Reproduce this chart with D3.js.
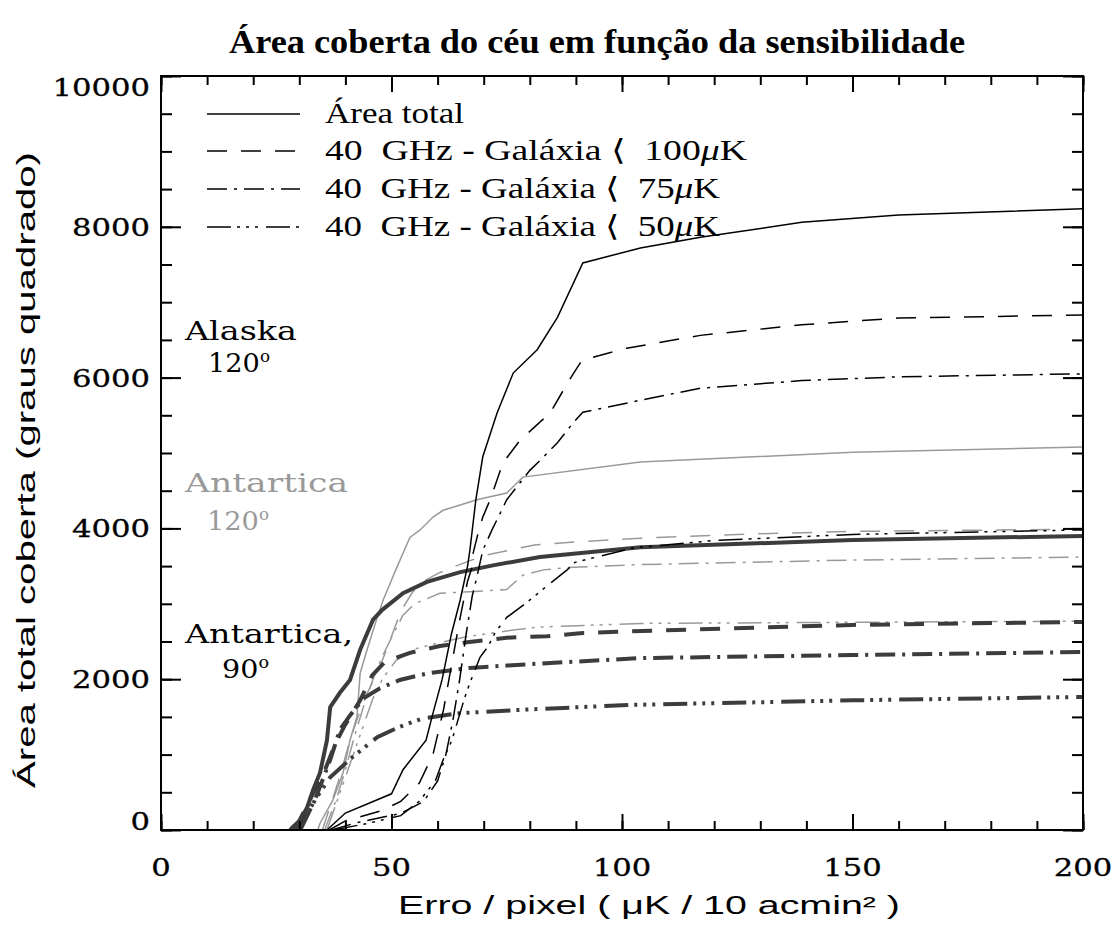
<!DOCTYPE html>
<html><head><meta charset="utf-8">
<script src="https://cdn.jsdelivr.net/npm/d3@7"></script>
<style>body{margin:0;background:#fff}</style>
</head><body><svg id="c" width="1118" height="928"></svg>
<script>
// ---------- data ----------
const xTicks=[0,50,100,150,200];
const yTicks=[0,2000,4000,6000,8000,10000];
const titleText="Área coberta do céu em função da sensibilidade";
const xTitle="Erro / pixel  ( μK / 10 acmin² )";
const yTitle="Área total coberta (graus quadrado)";
const legendLabels=["Área total","100","75","50"];

// Alaska 120° (black thin)
const alaskaTotal=[[36,0],[40,225],[50,480],[52.5,800],[57.5,1190],[59,1550],[61,2000],[63,2600],[64.9,3050],[66.5,3500],[67,3710],[68.3,4380],[69.8,4950],[72.9,5530],[76.4,6060],[81.6,6370],[86,6800],[91.5,7520],[104,7720],[117,7860],[139,8060],[160,8155],[200,8240]];
const alaska100=[[36.5,0],[40,120],[48,260],[52,380],[56,620],[59,1000],[61.3,1600],[63.2,2250],[65,2850],[66.5,3300],[67.5,3490],[67.7,3670],[68.8,3940],[69.8,4150],[71.4,4380],[73.1,4680],[74.2,4870],[77.9,5170],[82.2,5410],[84.4,5530],[88.3,5940],[91.3,6230],[101,6390],[117,6560],[139,6700],[160,6790],[200,6830]];
const alaska75=[[37,0],[42,90],[52,220],[57,380],[60,650],[61.8,1000],[63.3,1450],[64.8,2000],[66.2,2600],[67.5,3100],[68.5,3350],[69.8,3710],[71.8,3980],[75,4380],[80,4770],[82.2,4900],[85.9,5130],[89.4,5400],[91.5,5540],[104,5700],[117,5860],[139,5960],[160,6010],[200,6050]];
const alaska50=[[37.5,0],[45,90],[52,190],[56,380],[59.5,650],[61.2,930],[63.1,1190],[65.9,1760],[67,1950],[69.2,2290],[70.9,2430],[72.5,2620],[75,2820],[79.4,3020],[84.4,3270],[88.1,3450],[89.8,3550],[102.4,3740],[120,3840],[150,3920],[200,3980]];
// Antartica 120° (gray thin)
const ant120Total=[[34,0],[34.5,90],[37.3,400],[39.5,760],[41,1190],[42.5,1500],[43.2,2080],[44.7,2390],[46.9,2820],[48.2,3050],[51.2,3490],[54,3880],[56.2,3980],[59,4150],[61.2,4240],[64.9,4310],[68.5,4380],[75,4470],[78.5,4680],[104,4880],[150,5010],[200,5080]];
const ant120_100=[[35,0],[38.5,650],[41,1190],[43,1550],[45,1850],[47,2100],[49,2400],[50.5,2650],[52,2900],[54.5,3150],[57,3300],[60,3400],[63,3480],[70,3640],[81,3780],[90,3820],[104,3870],[130,3930],[150,3960],[200,3990]];
const ant120_75=[[35.5,0],[38,400],[40,800],[42,1250],[44,1650],[46,2000],[48,2300],[50,2550],[52.5,2850],[55,3000],[60.5,3140],[67,3160],[75,3190],[78.5,3380],[83,3450],[88,3480],[104,3520],[150,3580],[200,3620]];
const ant120_50=[[36,0],[38,350],[40,700],[42,1050],[44,1400],[46,1750],[48,2000],[51,2250],[55,2400],[60,2480],[66,2560],[75,2640],[81.5,2690],[104,2740],[150,2755],[200,2770]];
// Antartica 90° (dark gray thick)
const ant90Total=[[28,0],[28.6,40],[30.2,130],[31.7,300],[33,530],[34.5,760],[36,1190],[36.7,1630],[38.8,1820],[41,1990],[43.2,2390],[46,2790],[48,2920],[52.5,3140],[57.7,3290],[64.9,3420],[72,3510],[82.2,3620],[104,3750],[150,3845],[200,3900]];
const ant90_100=[[29,0],[32.3,400],[35.6,800],[37.7,1130],[39.9,1390],[43.2,1720],[45.8,2050],[48.6,2230],[54,2350],[60.5,2440],[66.4,2490],[75,2550],[83.7,2570],[90.9,2610],[98.9,2630],[150,2720],[200,2760]];
const ant90_75=[[29.7,0],[33.4,400],[36.7,930],[38.8,1330],[41,1520],[44,1750],[47.5,1880],[51.8,1990],[58,2080],[67,2150],[80,2200],[104,2280],[150,2320],[200,2360]];
const ant90_50=[[30.2,0],[33.4,400],[36.7,700],[41.6,970],[46.9,1230],[51.8,1370],[56.8,1480],[64.9,1550],[80,1600],[102.4,1660],[150,1720],[200,1765]];

// ---------- styles ----------
const dashes=[null,"20,14","20,7,3,7","24,6,3,6,3,6,3,8"];
const groups=[
  {color:"#999999",width:1.5,series:[ant120Total,ant120_100,ant120_75,ant120_50]},
  {color:"#3c3c3c",width:4,series:[ant90Total,ant90_100,ant90_75,ant90_50]},
  {color:"#000000",width:1.5,series:[alaskaTotal,alaska100,alaska75,alaska50]}
];

const svg=d3.select("#c");
const L=161,R=1083,T=76,B=830;
const x=d3.scaleLinear().domain([0,200]).range([L,R]);
const y=d3.scaleLinear().domain([0,10000]).range([B,T]);
const serif="'DejaVu Serif', serif";

// ---------- curves ----------
const line=d3.line().x(d=>x(d[0])).y(d=>y(d[1]));
groups.forEach(g=>{
  g.series.forEach((s,i)=>{
    svg.append("path").attr("d",line(s)).attr("fill","none")
      .attr("stroke",g.color).attr("stroke-width",g.width)
      .attr("stroke-dasharray",dashes[i]);
  });
});

// ---------- axes (ticks inward on all sides) ----------
function ax(gen,tr,vals,size){
  const g=svg.append("g").attr("transform",tr)
    .call(gen.tickValues(vals).tickSize(size).tickFormat(""));
  g.select(".domain").remove();
  g.selectAll("line").attr("stroke","#000").attr("stroke-width",2);
}
const xMinor=d3.range(0,201,10), yMinor=d3.range(0,10001,500);
ax(d3.axisBottom(x),`translate(0,${B})`,xMinor,-9);
ax(d3.axisBottom(x),`translate(0,${B})`,xTicks,-16);
ax(d3.axisTop(x),`translate(0,${T})`,xMinor,-9);
ax(d3.axisTop(x),`translate(0,${T})`,xTicks,-16);
ax(d3.axisLeft(y),`translate(${L},0)`,yMinor,-11);
ax(d3.axisLeft(y),`translate(${L},0)`,yTicks,-20);
ax(d3.axisRight(y),`translate(${R},0)`,yMinor,-11);
ax(d3.axisRight(y),`translate(${R},0)`,yTicks,-20);
svg.append("rect").attr("x",L).attr("y",T).attr("width",R-L).attr("height",B-T)
  .attr("fill","none").attr("stroke","#000").attr("stroke-width",2);

// tick labels
svg.selectAll(".xl").data(xTicks).enter().append("text")
  .attr("x",d=>x(d)).attr("y",876).attr("text-anchor","middle")
  .attr("font-family",serif).attr("font-size",25).attr("stroke","#000").attr("stroke-width",0.3)
  .attr("textLength",d=>String(d).length*19.5).attr("lengthAdjust","spacingAndGlyphs")
  .text(d=>d);
svg.selectAll(".yl").data(yTicks).enter().append("text")
  .attr("x",150).attr("y",d=>Math.min(Math.max(y(d),87),821)+9).attr("text-anchor","end")
  .attr("font-family",serif).attr("font-size",25).attr("stroke","#000").attr("stroke-width",0.3)
  .attr("textLength",d=>String(d).length*19.5).attr("lengthAdjust","spacingAndGlyphs")
  .text(d=>d);

// ---------- titles ----------
svg.append("text").attr("x",229).attr("y",53).attr("font-family","'Liberation Serif', serif")
  .attr("font-weight","bold").attr("font-size",33).attr("textLength",736)
  .attr("lengthAdjust","spacingAndGlyphs").text(titleText);
svg.append("text").attr("x",398).attr("y",914).attr("font-family","'Liberation Sans', Arial, sans-serif")
  .attr("font-size",26).attr("textLength",502).attr("lengthAdjust","spacingAndGlyphs").text(xTitle);
svg.append("text").attr("transform","translate(35,470) rotate(-90)").attr("text-anchor","middle")
  .attr("font-family","'Liberation Sans', Arial, sans-serif").attr("font-size",26)
  .attr("textLength",636).attr("lengthAdjust","spacingAndGlyphs").text(yTitle);

// ---------- legend ----------
const legY=[114,151,189,227];
legendLabels.forEach((lab,i)=>{
  svg.append("line").attr("x1",207).attr("x2",300).attr("y1",legY[i]).attr("y2",legY[i])
    .attr("stroke","#000").attr("stroke-width",1.5).attr("stroke-dasharray",dashes[i]);
  const t=svg.append("text").attr("x",325).attr("y",legY[i]+9)
    .attr("font-family","'Liberation Serif', serif").attr("font-size",29);
  if(i===0){ t.attr("textLength",139).attr("lengthAdjust","spacingAndGlyphs").text(lab); }
  else{
    t.attr("xml:space","preserve");
    t.append("tspan").text("40  GHz - Galáxia ⟨  "+lab);
    t.append("tspan").attr("font-style","italic").text("μ");
    t.append("tspan").text("K");
    t.attr("textLength",lab.length===3?422:395).attr("lengthAdjust","spacingAndGlyphs");
  }
});

// ---------- region labels ----------
function lab(txt,xx,yy,col,len,sup){
  const t=svg.append("text").attr("x",xx).attr("y",yy).attr("font-family",serif)
    .attr("font-size",26).attr("fill",col);
  t.append("tspan").text(txt);
  if(sup) t.append("tspan").attr("font-size",16).attr("dy",-10).text("o");
  t.attr("textLength",len).attr("lengthAdjust","spacingAndGlyphs");
}
lab("Alaska",185,340,"#000",112,false);
lab("120",208,372,"#000",62,true);
lab("Antartica",185,492,"#999",163,false);
lab("120",207,530,"#999",62,true);
lab("Antartica,",185,643,"#000",168,false);
lab("90",222,678,"#000",47,true);
</script></body></html>
